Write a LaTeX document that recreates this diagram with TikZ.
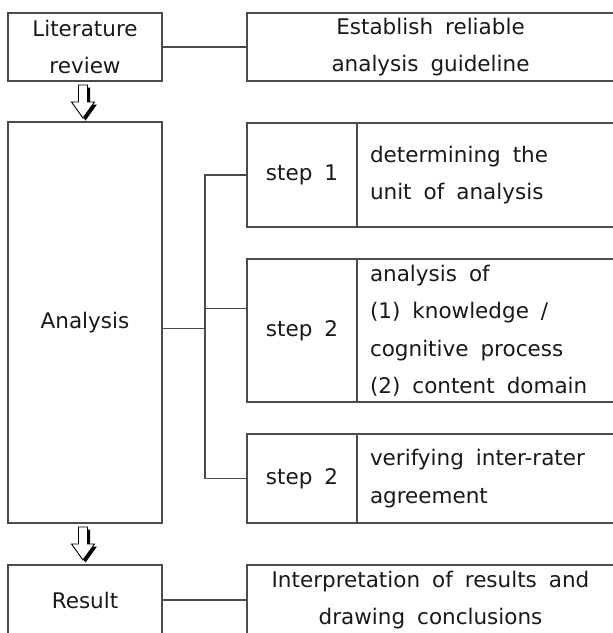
\documentclass[tikz,border=0pt]{standalone}
\usepackage{fontspec}
\setmainfont{DejaVu Sans}
\usepackage{tikz}
\usetikzlibrary{positioning, calc}
\definecolor{linegrey}{RGB}{75, 75, 75}
\definecolor{textblack}{RGB}{25, 25, 25}
\newcommand{\boxfont}{\fontsize{21.5}{37.5}\selectfont}

\begin{document}
\begin{tikzpicture}[x=1pt, y=1pt, inner sep=0pt, outer sep=0pt,
  every node/.style={font=\boxfont, text=textblack, execute at begin node={\spaceskip=12pt plus 2pt minus 1pt\relax}},
  block/.style={rectangle, draw=linegrey, line width=1.2pt, align=center},
  stepbox/.style={block, minimum width=110pt},
  descbox/.style={block, align=left, text width=231pt, inner xsep=13pt},
  line/.style={draw=linegrey, line width=1.2pt},
  blockarrow/.pic={
    \path[fill=black, shift={(2.5pt,-2.5pt)}] (-4.5,0) -- (4.5,0) -- (4.5,-17) -- (11.5,-17) -- (0,-33) -- (-11.5,-17) -- (-4.5,-17) -- cycle;
    \path[draw=black, fill=white, line width=0.9pt] (-4.5,0) -- (4.5,0) -- (4.5,-17) -- (11.5,-17) -- (0,-33) -- (-11.5,-17) -- (-4.5,-17) -- cycle;
  }]

  \useasboundingbox (0,0) rectangle (613,-633);
  \clip (0,0) rectangle (613,-633);

  % top row
  \node [block, anchor=north west, minimum width=154pt, minimum height=68pt] (lit) at (8,-13) {Literature\\review};
  \node [block, right=85pt of lit, minimum width=367pt, minimum height=68pt] (est) {Establish reliable\\analysis guideline};

  % analysis and its steps
  \node [block, below=41pt of lit, minimum width=154pt, minimum height=401pt] (ana) {Analysis};
  \node [stepbox, anchor=north west, minimum height=104pt] (s1) at (247,-123) {step 1};
  \node [descbox, right=0pt of s1, minimum height=104pt] (d1) {determining the\\unit of analysis};
  \node [stepbox, below=32pt of s1, minimum height=143pt] (s2) {step 2};
  \node [descbox, right=0pt of s2, minimum height=143pt] (d2) {analysis of\\(1) knowledge /\\cognitive process\\(2) content domain};
  \node [stepbox, below=32pt of s2, minimum height=89pt] (s3) {step 2};
  \node [descbox, right=0pt of s3, minimum height=89pt] (d3) {verifying inter-rater\\agreement};

  % bottom row
  \node [block, below=42pt of ana, minimum width=154pt, minimum height=70pt] (res) {Result};
  \node [block, right=85pt of res, minimum width=367pt, minimum height=70pt] (interp) {Interpretation of results and\\drawing conclusions};

  % connectors
  \draw [line] (lit) -- (est);
  \draw [line] (res) -- (interp);
  \draw [line] (s1.west) -- ++(-42pt,0) coordinate (bus) -- (bus |- s3.west) -- (s3.west);
  \coordinate (s2in) at ([yshift=22pt]s2.west);
  \draw [line] (s2in) -- (bus |- s2in);
  \coordinate (anaout) at ([yshift=-6pt]ana.east);
  \draw [line] (anaout) -- (bus |- anaout);

  \pic at ([xshift=-2pt, yshift=-4pt]lit.south) {blockarrow};
  \pic at ([xshift=-2pt, yshift=-4pt]ana.south) {blockarrow};

\end{tikzpicture}
\end{document}
